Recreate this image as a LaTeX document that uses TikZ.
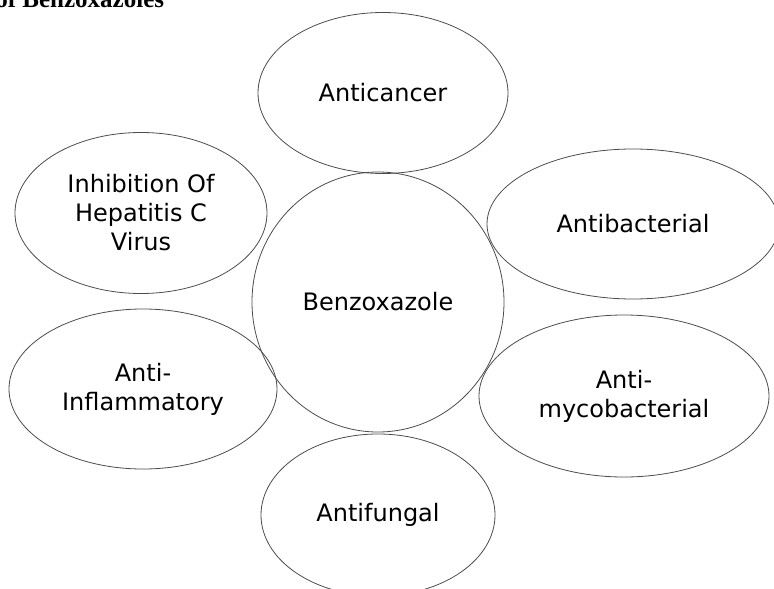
\documentclass[tikz,border=0pt]{standalone}
\usepackage{fontspec}
\setmainfont{DejaVu Sans}
\newfontfamily\headfont{Liberation Serif}
\usetikzlibrary{shapes,positioning}

\begin{document}
\begin{tikzpicture}[x=1pt,y=-1pt]

\tikzstyle{every node}=[ellipse, draw=black!70, line width=0.8pt, inner sep=0pt, align=center, font=\fontsize{24}{29}\selectfont]
\tikzstyle{blank} = [draw=none, rectangle]

\useasboundingbox (0,0) rectangle (774,589);
\clip (0,0) rectangle (774,589);

\node[blank, anchor=base west, font=\headfont\bfseries\fontsize{25}{30}\selectfont] at (-5,8) (title) {of Benzoxazoles};

\node[minimum width=252, minimum height=260] at (378,302) (benz) {Benzoxazole};

\node[minimum width=250, minimum height=161] at (383,93) (cancer) {Anticancer};
\node[minimum width=252, minimum height=161] at (141,213) (hepc) {Inhibition Of\\Hepatitis C\\Virus};
\node[minimum width=292, minimum height=150] at (633,224) (bact) {Antibacterial};
\node[minimum width=268, minimum height=160] at (143,389) (inflam) {Anti-\\Inflammatory};
\node[minimum width=290, minimum height=162] at (624,396) (myco) {Anti-\\mycobacterial};
\node[minimum width=234, minimum height=162] at (378,515) (fungal) {Antifungal};

\end{tikzpicture}
\end{document}
